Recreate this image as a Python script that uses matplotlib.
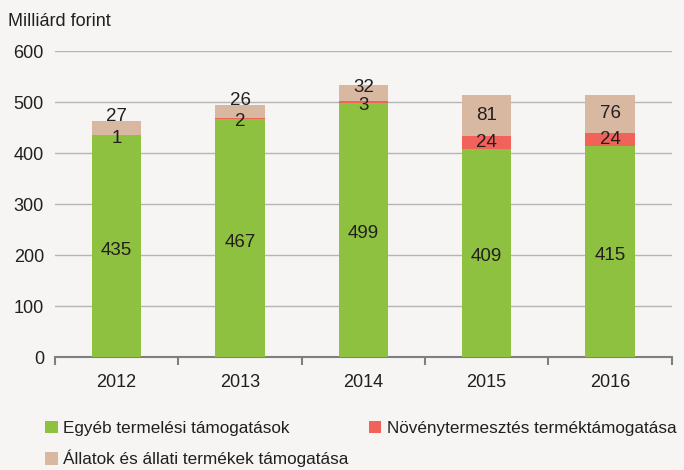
import matplotlib.pyplot as plt
import numpy as np

years = ['2012', '2013', '2014', '2015', '2016']
egyeb = [435, 467, 499, 409, 415]
novenyt = [1, 2, 3, 24, 24]
allatok = [27, 26, 32, 81, 76]

names = ['Egyéb termelési támogatások',
         'Növénytermesztés terméktámogatása',
         'Állatok és állati termékek támogatása']
colors = ['#8dc13f', '#f0625a', '#d8b8a0']

plt.rcParams['font.family'] = ['Liberation Sans Narrow', 'Liberation Sans', 'DejaVu Sans']
txt = '#231f20'
bg = '#f6f5f3'

fig = plt.figure(figsize=(6.84, 4.70), dpi=100, facecolor=bg)
ax = fig.add_axes([0.0804, 0.2404, 0.9016, 0.6506], facecolor=bg)

x = np.arange(len(years))
w = 0.4
b1 = ax.bar(x, egyeb, w, color=colors[0], zorder=3)
b2 = ax.bar(x, novenyt, w, bottom=egyeb, color=colors[1], zorder=3)
bottom3 = np.array(egyeb) + np.array(novenyt)
b3 = ax.bar(x, allatok, w, bottom=bottom3, color=colors[2], zorder=3)

# label offsets in pixels (Excel pushes overlapping labels apart)
off_mid = [-3, -3, -4, 0, 0]
off_top = [11, 11, 6, 0, 0]
for i in range(len(years)):
    ax.annotate(str(egyeb[i]), (x[i], egyeb[i] / 2), xytext=(0, -4),
                textcoords='offset pixels', ha='center', va='center',
                fontsize=13.5, color=txt, zorder=4)
    ax.annotate(str(novenyt[i]), (x[i], egyeb[i] + novenyt[i] / 2), xytext=(0, off_mid[i]),
                textcoords='offset pixels', ha='center', va='center', fontsize=13.5, color=txt, zorder=4)
    ax.annotate(str(allatok[i]), (x[i], bottom3[i] + allatok[i] / 2), xytext=(0, off_top[i]),
                textcoords='offset pixels', ha='center', va='center', fontsize=13.5, color=txt, zorder=4)

ax.set_xlim(-0.5, len(years) - 0.5)
ax.set_ylim(0, 600)
ax.set_yticks(range(0, 601, 100))
ax.yaxis.grid(True, color='#b5b5b5', linewidth=1, zorder=0)
ax.tick_params(axis='y', length=0, labelsize=13, labelcolor=txt, pad=8)
ax.set_xticks(x)
ax.set_xticklabels(years)
ax.tick_params(axis='x', length=0, labelsize=13, labelcolor=txt, pad=12)
ax.set_xticks(np.arange(-0.5, len(years), 1), minor=True)
ax.tick_params(axis='x', which='minor', length=6, width=1.5, color='#7f7f7f')
for s in ['top', 'right', 'left']:
    ax.spines[s].set_visible(False)
ax.spines['bottom'].set_color('#7f7f7f')
ax.spines['bottom'].set_linewidth(1.5)

fig.text(0.012, 0.955, 'Milliárd forint', fontsize=13, color=txt, va='center')

handles = [b1, b3, b2]
labels = [names[0], names[2], names[1]]
fig.legend(handles, labels, ncol=2, loc='upper left', bbox_to_anchor=(0.043, 0.137),
           frameon=False, fontsize=12.3, handlelength=0.75, handleheight=0.75,
           handletextpad=0.3, columnspacing=1.2, labelspacing=0.8, labelcolor=txt)

fig.savefig('out.png', dpi=100, facecolor=bg)
